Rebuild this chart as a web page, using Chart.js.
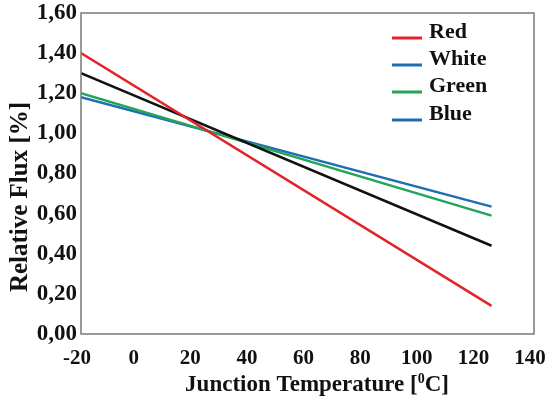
<!DOCTYPE html>
<html>
<head>
<meta charset="utf-8">
<script src="https://cdn.jsdelivr.net/npm/chart.js@4.4.0/dist/chart.umd.min.js"></script>
<style>
    html, body { margin: 0; padding: 0; background: #fff; }
    #wrap { width: 545px; height: 396px; position: relative; }
</style>
</head>
<body>
<div id="wrap"><canvas id="fluxChart"></canvas></div>
<script>
// ========================================================================
// 데이터
// ========================================================================
const temperatures = [-20, 125];           // Junction temperature [°C]
const redFlux   = [1.40, 0.14];
const whiteFlux = [1.30, 0.44];
const greenFlux = [1.20, 0.59];
const blueFlux  = [1.18, 0.635];

const seriesNames  = ['Red', 'White', 'Green', 'Blue'];
const seriesColors = ['#e3232a', '#111111', '#22a55a', '#1f6db3'];
// 원본 범례의 색 (White 항목도 파란색으로 표시됨)
const legendColors = ['#e3232a', '#1f6db3', '#22a55a', '#1f6db3'];

// x축 제목: 본문 + 위첨자 0 + 나머지
const xTitleParts = ['Junction Temperature [', '0', 'C]'];
const yTitle = 'Relative Flux [%]';

const FONT = '"Liberation Serif", "Times New Roman", serif';

function toPoints(values) {
    return temperatures.map((t, i) => ({ x: t, y: values[i] }));
}

// 프레임 + 축 제목 + 범례 그리기
const framePlugin = {
    id: 'frame',
    afterDraw(chart) {
        const { ctx, chartArea: a } = chart;
        ctx.save();
        ctx.strokeStyle = '#7a7a7a';
        ctx.lineWidth = 1.5;
        ctx.strokeRect(a.left, a.top, a.right - a.left, a.bottom - a.top);

        // x축 제목 (위첨자 포함)
        ctx.fillStyle = '#111';
        ctx.textAlign = 'left';
        ctx.textBaseline = 'alphabetic';
        const big = 'bold 23px ' + FONT;
        const small = 'bold 14px ' + FONT;
        ctx.font = big;
        const w0 = ctx.measureText(xTitleParts[0]).width;
        const w2 = ctx.measureText(xTitleParts[2]).width;
        ctx.font = small;
        const w1 = ctx.measureText(xTitleParts[1]).width;
        let x = 317 - (w0 + w1 + w2) / 2;
        const base = 391;
        ctx.font = big;
        ctx.fillText(xTitleParts[0], x, base);
        x += w0;
        ctx.font = small;
        ctx.fillText(xTitleParts[1], x, base - 8);
        x += w1;
        ctx.font = big;
        ctx.fillText(xTitleParts[2], x, base);

        // y축 제목
        ctx.textAlign = 'center';
        ctx.textBaseline = 'middle';
        ctx.font = 'bold 25px ' + FONT;
        ctx.translate(21, 197);
        ctx.rotate(-Math.PI / 2);
        ctx.fillText(yTitle, 0, 0);
        ctx.restore();

        // 범례
        ctx.save();
        ctx.font = 'bold 22px ' + FONT;
        ctx.textAlign = 'left';
        ctx.textBaseline = 'middle';
        const lineY = [38, 65, 92, 120];
        seriesNames.forEach((name, i) => {
            ctx.strokeStyle = legendColors[i];
            ctx.lineWidth = 3;
            ctx.beginPath();
            ctx.moveTo(392, lineY[i]);
            ctx.lineTo(422, lineY[i]);
            ctx.stroke();
            ctx.fillStyle = '#111';
            ctx.fillText(name, 429, lineY[i] - 6);
        });
        ctx.restore();
    }
};

const datasets = [redFlux, whiteFlux, greenFlux, blueFlux].map((vals, i) => ({
    label: seriesNames[i],
    data: toPoints(vals),
    borderColor: seriesColors[i],
    backgroundColor: seriesColors[i],
    borderWidth: 2.5,
    pointRadius: 0,
    tension: 0,
    fill: false
}));

new Chart(document.getElementById('fluxChart'), {
    type: 'line',
    data: { datasets: datasets },
    options: {
        responsive: true,
        maintainAspectRatio: false,
        animation: false,
        layout: { padding: { top: 13, right: 11, left: 0, bottom: 0 } },
        plugins: {
            legend: { display: false },
            tooltip: { enabled: false }
        },
        scales: {
            x: {
                type: 'linear',
                min: -20,
                max: 140,
                grid: { display: false, drawTicks: false },
                border: { display: false },
                ticks: {
                    stepSize: 20,
                    color: '#111',
                    padding: 12,
                    labelOffset: -4,
                    maxRotation: 0,
                    font: { family: FONT, size: 21, weight: 'bold' }
                },
                afterFit(scale) {
                    scale.height = 62;
                    scale.paddingLeft = 0;
                    scale.paddingRight = 0;
                }
            },
            y: {
                min: 0,
                max: 1.6,
                grid: { display: false, drawTicks: false },
                border: { display: false },
                ticks: {
                    stepSize: 0.2,
                    color: '#111',
                    padding: 4,
                    font: { family: FONT, size: 23, weight: 'bold' },
                    callback: v => v.toFixed(2).replace('.', ',')
                },
                afterFit(scale) {
                    scale.width = 81;
                    scale.paddingTop = 0;
                    scale.paddingBottom = 0;
                }
            }
        }
    },
    plugins: [framePlugin]
});
</script>
</body>
</html>
